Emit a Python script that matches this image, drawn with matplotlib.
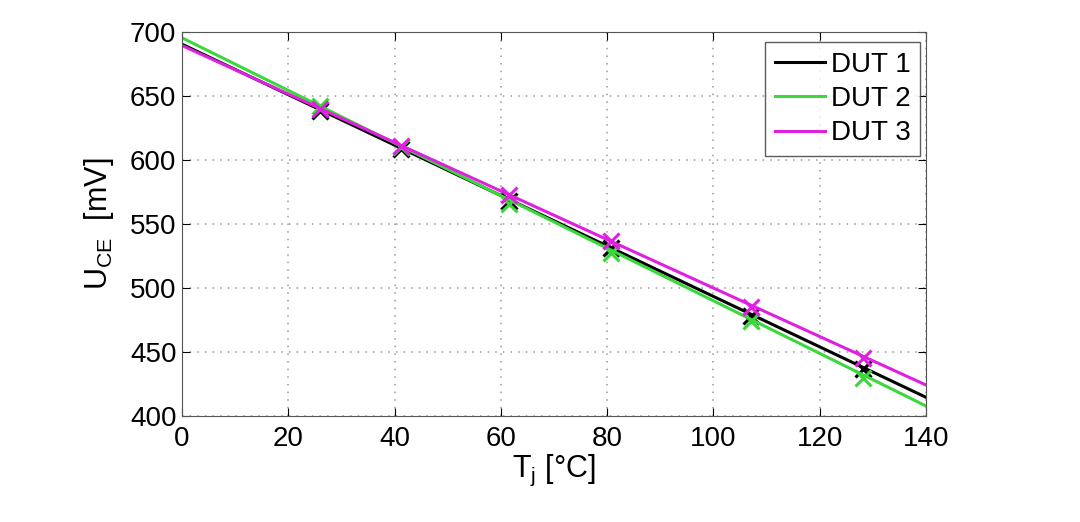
import matplotlib
matplotlib.use("Agg")
import matplotlib.pyplot as plt

plt.rcParams['font.family'] = ['Liberation Sans', 'DejaVu Sans']
plt.rcParams['mathtext.default'] = 'regular'

# measured points
tj = [26.0, 41.3, 61.5, 80.7, 107.0, 128.2]
dut1 = [638, 609, 568, 531, 478, 437]
dut2 = [642, 610, 566, 527, 474, 430]
dut3 = [640, 611, 573, 537, 485, 445]

# linear fit lines, end points
fit_x = [0, 140]
fit1 = [690.5, 414.6]
fit2 = [695.5, 407.8]
fit3 = [689.5, 424.2]

names = ['DUT 1', 'DUT 2', 'DUT 3']
colors = ['#000000', '#3ad83a', '#e020e0']

fig = plt.figure(figsize=(10.8, 5.22), dpi=100)
ax = fig.add_axes([0.1685, 0.203, 0.689, 0.7356])

for pts, fit, name, c in zip([dut1, dut2, dut3], [fit1, fit2, fit3], names, colors):
    ax.plot(fit_x, fit, color=c, lw=2.2, label=name)
    ax.plot(tj, pts, linestyle='none', marker='x', ms=11, mew=2.2, color=c)

ax.set_xlim(0, 140)
ax.set_ylim(400, 700)
ax.set_xticks(range(0, 141, 20))
ax.set_yticks(range(400, 701, 50))
ax.grid(True, linestyle=(0, (1, 4)), color='#999999', lw=1.1)
ax.tick_params(direction='in', top=True, right=True, labelsize=20, length=6)
ax.tick_params(axis='x', pad=7)
ax.tick_params(axis='y', pad=4)
for s in ax.spines.values():
    s.set_color('#555555')

ax.set_xlabel('T$_j$ [°C]', fontsize=22, labelpad=1)
ax.set_ylabel('U$_{CE}$  [mV]', fontsize=22, labelpad=10)

leg = ax.legend(loc='upper right', bbox_to_anchor=(0.992, 0.974), fontsize=20,
                frameon=True, fancybox=False, handlelength=1.8, handletextpad=0.2,
                borderpad=0.35, labelspacing=0.3, borderaxespad=0)
leg.get_frame().set_edgecolor('#333333')
leg.get_frame().set_linewidth(1)

fig.savefig('out.png', dpi=100)
